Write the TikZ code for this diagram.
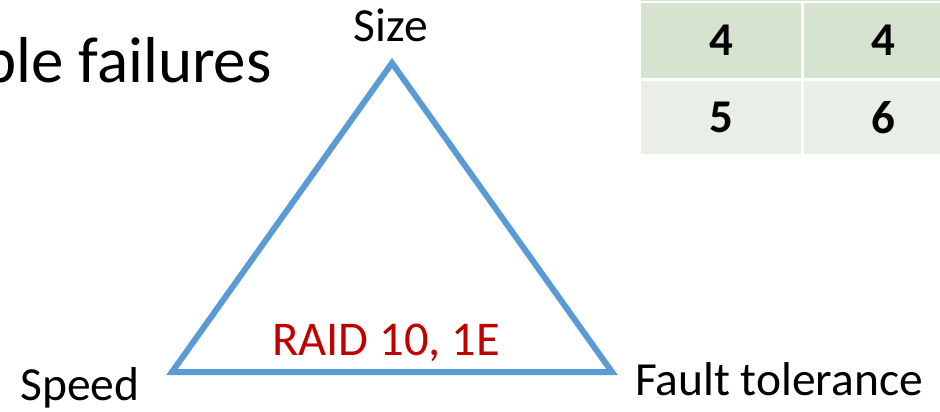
\documentclass[tikz,border=0pt]{standalone}
\usepackage{fontspec}
\setmainfont{Carlito}
\definecolor{triblue}{HTML}{5B9BD5}
\definecolor{raidred}{HTML}{C00000}
\definecolor{rowa}{HTML}{D6E3CE}
\definecolor{rowb}{HTML}{E9EFE7}
\tikzset{
  lbl/.style={inner sep=0pt, font=\fontsize{47.5}{52}\selectfont, text=black},
  cellbox/.style={inner sep=0pt, minimum height=75pt, font=\fontsize{47}{50}\selectfont\bfseries, text=black},
  edge/.style={draw=triblue, line width=6pt, line join=miter}
}
\begin{document}
\begin{tikzpicture}[x=1pt,y=-1pt]
\useasboundingbox (0,0) rectangle (940,412);
\clip (0,0) rectangle (940,412);

% heading fragment at the top left
\node[lbl, font=\fontsize{65}{70}\selectfont, anchor=base east] (head) at (272,83) {ble failures};

% table cells
\fill[rowa] (641,-5) rectangle (962,1);
\node[cellbox, fill=rowa, minimum width=160pt] (c11) at (721,40.5) {4};
\node[cellbox, fill=rowa, minimum width=158pt] (c12) at (883,40.5) {4};
\node[cellbox, fill=rowb, minimum width=160pt, minimum height=73pt] (c21) at (721,117.5) {5};
\node[cellbox, fill=rowb, minimum width=158pt, minimum height=73pt] (c22) at (883,117.5) {6};

% trade-off triangle
\coordinate (apex) at (392,63);
\coordinate (left) at (172,372);
\coordinate (right) at (612,372);
\draw[edge] (apex) -- (right) -- (left) -- cycle;

\node[lbl, anchor=base] (size) at (391,42) {Size};
\node[lbl, anchor=base] (speed) at (80,400) {Speed};
\node[lbl, anchor=base west] (fault) at (635,395) {Fault tolerance};
\node[lbl, anchor=base, text=raidred, font=\fontsize{48.5}{52}\selectfont] (raid) at (386,355) {RAID 10, 1E};
\end{tikzpicture}
\end{document}
